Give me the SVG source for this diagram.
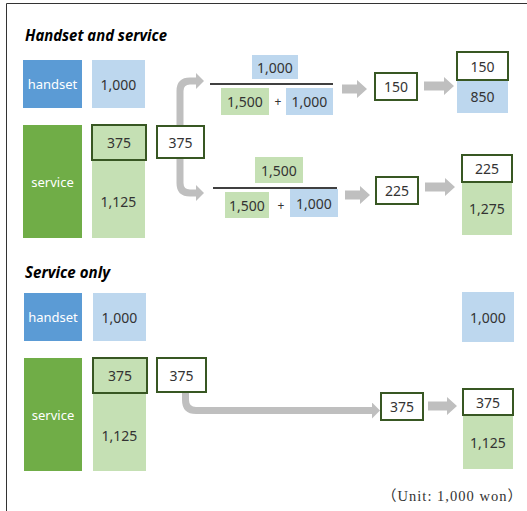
<svg xmlns="http://www.w3.org/2000/svg" width="527" height="511" viewBox="0 0 527 511">
<style>
.t{font-family:"Noto Sans","Liberation Sans",sans-serif;font-size:14px;fill:#333;text-anchor:middle;dominant-baseline:central}
.w{fill:#fff;font-size:13px}
.ttl{font-family:"Noto Sans","Liberation Sans",sans-serif;font-size:16px;font-weight:bold;font-style:italic;fill:#000}
.dk{fill:#5B9BD5}
.lb{fill:#BDD7EE}
.dg{fill:#70AD47}
.lg{fill:#C5E0B4}
.bx{stroke:#385723;stroke-width:2}
.wb{fill:#fff;stroke:#385723;stroke-width:2}
.blk{fill:#BFBFBF}
.cn{fill:none;stroke:#BFBFBF;stroke-width:7}
.fl{stroke:#000;stroke-width:1.5}
.fr{stroke:#333;stroke-width:1;fill:none}
</style>
<defs>
<marker id="ah" markerUnits="userSpaceOnUse" markerWidth="8" markerHeight="16" refX="0" refY="8" orient="auto">
<path d="M0,0 L8,8 L0,16 Z" fill="#BFBFBF"/>
</marker>
</defs>
<path class="fr" d="M6.5,511 V3.5 H527"/>
<text class="ttl" x="25" y="41" textLength="142" lengthAdjust="spacingAndGlyphs">Handset and service</text>
<text class="ttl" x="25" y="278" textLength="85" lengthAdjust="spacingAndGlyphs">Service only</text>
<g id="connectors">
<path class="cn" d="M180,142 V91 Q180,81 190,81 H196" marker-end="url(#ah)"/>
<path class="cn" d="M180,142 V183 Q180,193 190,193 H196" marker-end="url(#ah)"/>
<path class="cn" d="M185.5,375 V400 Q185.5,410.5 196,410.5 H372" marker-end="url(#ah)"/>
<path class="blk" d="M342,84.5 H357 V80 L367,89 L357,98 V93.5 H342 Z"/>
<path class="blk" d="M424,81.5 H444 V77 L454,86 L444,95 V90.5 H424 Z"/>
<path class="blk" d="M345,190.5 H360 V186 L370,195 L360,204 V199.5 H345 Z"/>
<path class="blk" d="M425,182.5 H445 V178 L455,187 L445,196 V191.5 H425 Z"/>
<path class="blk" d="M428,401.5 H447 V397 L457,406 L447,415 V410.5 H428 Z"/>
</g>
<g id="s1-handset"><rect class="dk" x="23" y="60" width="59" height="48"/><text class="t w" x="52.5" y="84">handset</text></g>
<g id="s1-handset-val"><rect class="lb" x="92" y="60" width="53" height="48"/><text class="t" x="118.5" y="84">1,000</text></g>
<g id="s1-service"><rect class="dg" x="23" y="125" width="59" height="113"/><text class="t w" x="52.5" y="182">service</text></g>
<g id="s1-service-1125"><rect class="lg" x="92" y="160" width="53" height="78"/><text class="t" x="118.5" y="201">1,125</text></g>
<g id="s1-service-375"><rect class="lg bx" x="92" y="125" width="54" height="35"/><text class="t" x="119" y="142.5">375</text></g>
<g id="s1-split"><rect class="wb" x="157" y="126" width="47" height="32"/><text class="t" x="180.5" y="142">375</text></g>
<g id="s1-frac1">
<rect class="lb" x="252" y="55" width="46" height="24"/><text class="t" x="275" y="67">1,000</text>
<line class="fl" x1="210" y1="84" x2="333" y2="84"/>
<rect class="lg" x="221" y="88" width="48" height="27"/><text class="t" x="245" y="101.5">1,500</text>
<text class="t" x="278" y="101.5" style="font-size:12px">+</text>
<rect class="lb" x="286" y="88" width="47" height="27"/><text class="t" x="309.5" y="101.5">1,000</text>
</g>
<g id="s1-r150"><rect class="wb" x="375" y="73" width="42" height="27"/><text class="t" x="396" y="86.5">150</text></g>
<g id="s1-res1"><rect class="lb" x="457" y="80" width="51" height="33"/><text class="t" x="482.5" y="96.5">850</text><rect class="wb" x="457" y="52" width="51" height="28"/><text class="t" x="482.5" y="66">150</text></g>
<g id="s1-frac2">
<rect class="lg" x="255" y="157" width="48" height="26"/><text class="t" x="279" y="170">1,500</text>
<line class="fl" x1="213" y1="188" x2="337" y2="188"/>
<rect class="lg" x="225" y="192" width="44" height="26"/><text class="t" x="247" y="205">1,500</text>
<text class="t" x="281" y="205" style="font-size:12px">+</text>
<rect class="lb" x="290" y="189" width="48" height="28"/><text class="t" x="314" y="203">1,000</text>
</g>
<g id="s1-r225"><rect class="wb" x="376" y="177" width="42" height="27"/><text class="t" x="397" y="190.5">225</text></g>
<g id="s1-res2"><rect class="lg" x="462" y="182" width="50" height="53"/><text class="t" x="487" y="208.5">1,275</text><rect class="wb" x="462" y="155" width="50" height="27"/><text class="t" x="487" y="168.5">225</text></g>
<g id="s2-handset"><rect class="dk" x="24" y="293" width="58" height="48"/><text class="t w" x="53" y="317">handset</text></g>
<g id="s2-handset-val"><rect class="lb" x="93" y="293" width="53" height="48"/><text class="t" x="119.5" y="317">1,000</text></g>
<g id="s2-service"><rect class="dg" x="24" y="358" width="58" height="113"/><text class="t w" x="53" y="415">service</text></g>
<g id="s2-service-1125"><rect class="lg" x="93" y="393" width="53" height="78"/><text class="t" x="119.5" y="435">1,125</text></g>
<g id="s2-service-375"><rect class="lg bx" x="93" y="358" width="54" height="35"/><text class="t" x="120" y="375.5">375</text></g>
<g id="s2-split"><rect class="wb" x="157" y="358" width="49" height="34"/><text class="t" x="181.5" y="375">375</text></g>
<g id="s2-r375"><rect class="wb" x="381" y="393" width="42" height="27"/><text class="t" x="402" y="406.5">375</text></g>
<g id="s2-res-handset"><rect class="lb" x="462" y="292" width="52" height="50"/><text class="t" x="488" y="317">1,000</text></g>
<g id="s2-res-service"><rect class="lg" x="463" y="415" width="50" height="54"/><text class="t" x="488" y="442">1,125</text><rect class="wb" x="463" y="389" width="50" height="26"/><text class="t" x="488" y="402">375</text></g>
<text x="382" y="501" textLength="140" lengthAdjust="spacing" style="font-family:'Liberation Serif','Noto Sans CJK KR',serif;font-size:14.5px;fill:#333">（Unit: 1,000 won）</text>
</svg>
